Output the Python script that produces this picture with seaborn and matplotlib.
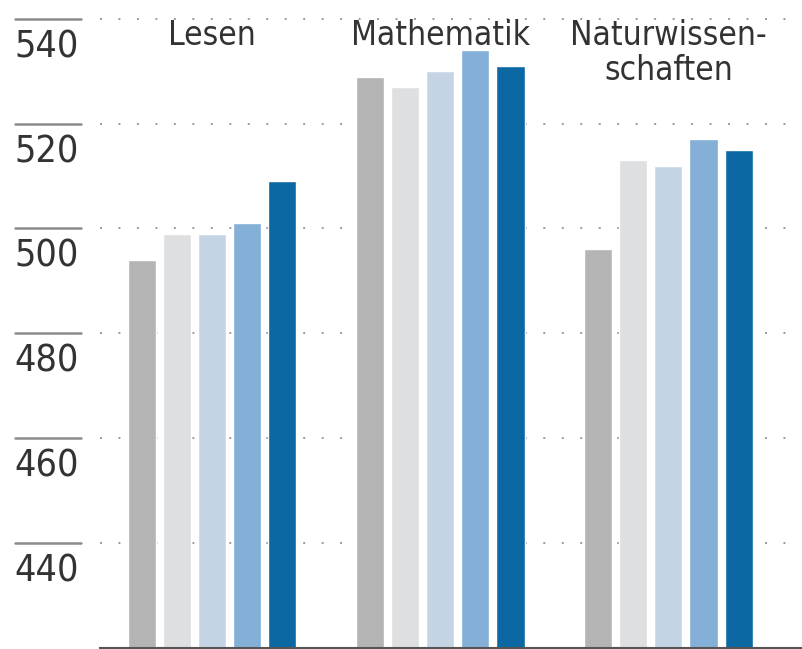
import pandas as pd
import seaborn as sns
import matplotlib.pyplot as plt
import matplotlib.transforms as mtransforms

# PISA Schweiz, Punkte pro Bereich und Erhebungsjahr
bereiche = ["Lesen", "Mathematik", "Naturwissen-\nschaften"]
jahre = ["2000", "2003", "2006", "2009", "2012"]
lesen = [494, 499, 499, 501, 509]
mathematik = [529, 527, 530, 534, 531]
naturwissenschaften = [496, 513, 512, 517, 515]
yticks = [440, 460, 480, 500, 520, 540]

farben = ["#b4b4b4", "#dedfe0", "#c5d4e5", "#84afd6", "#0b68a2"]

df = pd.DataFrame({
    "Bereich": [b for b in bereiche for _ in jahre],
    "Jahr": jahre * len(bereiche),
    "Punkte": lesen + mathematik + naturwissenschaften,
})

sns.set_style("white")
plt.rcParams["font.family"] = ["DejaVu Sans"]
plt.rcParams["font.stretch"] = "condensed"
textfarbe = "#333333"

fig = plt.figure(figsize=(8.03, 6.49), dpi=100)
ax = fig.add_axes([0.125, 0.002, 0.875, 0.998])

sns.barplot(data=df, x="Bereich", y="Punkte", hue="Jahr", palette=farben,
            width=0.77, gap=0.2, legend=False, saturation=1, ax=ax)

ax.set_ylim(420, 543.6)
ax.set_xlim(-0.49, 2.59)
ax.set_yticks(yticks)
ax.set_yticklabels([])
ax.tick_params(axis="y", length=0)
ax.set_xticks([])
ax.set_xlabel("")
ax.set_ylabel("")

# gepunktete Hilfslinien
ax.yaxis.grid(True, color="#9a9a9a", linestyle=(0, (1, 8.5)), linewidth=1.4)
ax.set_axisbelow(True)

for s in ["top", "right", "left"]:
    ax.spines[s].set_visible(False)
ax.spines["bottom"].set_color("#555555")
ax.spines["bottom"].set_linewidth(1.5)

# kurze Striche links mit Zahl darunter
trans = mtransforms.blended_transform_factory(ax.transAxes, ax.transData)
for t in yticks:
    ax.axhline(t, xmin=-0.121, xmax=-0.028, color="#8c8c8c", linewidth=1.8, clip_on=False)
    ax.annotate(str(t), xy=(-0.123, t), xycoords=trans, xytext=(0, -7.5),
                textcoords="offset points", ha="left", va="top",
                fontsize=27, color=textfarbe, annotation_clip=False)

# Bereichstitel oben
for i, b in enumerate(bereiche):
    ax.text(i, 540.0, b, ha="center", va="top", fontsize=24,
            color=textfarbe, linespacing=1.1)

plt.savefig("out.png", dpi=100)
plt.close()
